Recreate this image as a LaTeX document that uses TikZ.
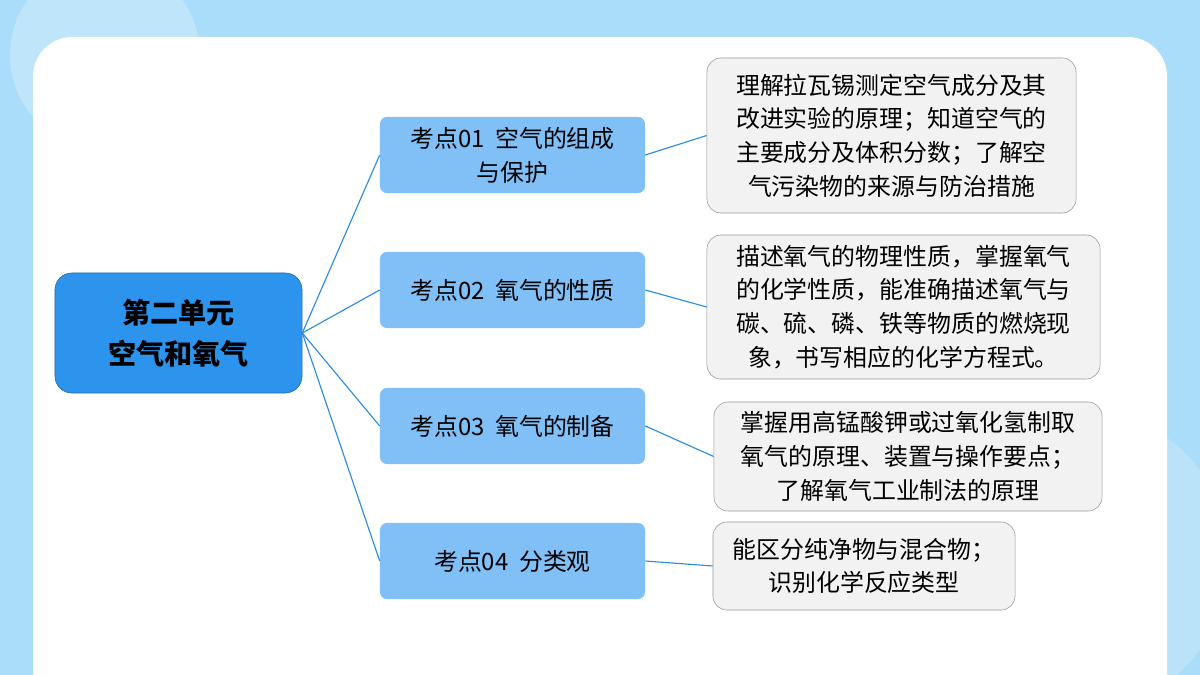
\documentclass[tikz,border=0pt]{standalone}
\usepackage{fontspec}
\setmainfont{Noto Sans CJK SC}
\usetikzlibrary{positioning,calc}
\definecolor{bgblue}{HTML}{A9DDF9}
\definecolor{rootblue}{HTML}{2D94EE}
\definecolor{catblue}{HTML}{80C0F6}
\definecolor{linkblue}{HTML}{2A8BE6}
\definecolor{detgray}{HTML}{F2F2F2}

\begin{document}
\begin{tikzpicture}[x=0.025cm,y=-0.025cm,
    root/.style={draw=rootblue!70!black, fill=rootblue, rounded corners=12pt, minimum width=6.175cm, minimum height=3cm, align=center, font=\fontsize{20}{29}\selectfont\bfseries},
    cat/.style={fill=catblue, rounded corners=5pt, minimum width=6.625cm, minimum height=1.9cm, align=center, font=\fontsize{17}{24}\selectfont},
    detail/.style={draw=gray!80, fill=detgray, rounded corners=10pt, align=center, inner sep=2pt, font=\fontsize{17}{24}\selectfont},
    link/.style={draw=linkblue, thick}
]

% background and panel
\useasboundingbox (0,0) rectangle (1200,675);
\clip (0,0) rectangle (1200,675);
\fill[bgblue] (0,0) rectangle (1200,675);
\fill[white, opacity=0.25] (105,55) circle (95);
\fill[white, opacity=0.2] (1080,560) circle (150);
\fill[white, rounded corners=28pt] (33,37) rectangle (1167,720);

% root
\node[root] (unit) at (178.5,333) {第二单元\\空气和氧气};

% exam points
\node[cat] (k1) at (512.5,155) {考点01~ 空气的组成\\与保护};
\node[cat] (k2) at (512.5,290) {考点02~ 氧气的性质};
\node[cat] (k3) at (512.5,426) {考点03~ 氧气的制备};
\node[cat] (k4) at (512.5,561) {考点04~ 分类观};

% details
\node[detail, minimum width=9.225cm, minimum height=3.875cm] (d1) at (891.5,135.5)
    {理解拉瓦锡测定空气成分及其\\改进实验的原理；知道空气的\\主要成分及体积分数；了解空\\气污染物的来源与防治措施};
\node[detail, minimum width=9.825cm, minimum height=3.6cm] (d2) at (903.5,307)
    {描述氧气的物理性质，掌握氧气\\的化学性质，能准确描述氧气与\\碳、硫、磷、铁等物质的燃烧现\\象，书写相应的化学方程式。};
\node[detail, minimum width=9.7cm, minimum height=2.725cm] (d3) at (908,456.5)
    {掌握用高锰酸钾或过氧化氢制取\\氧气的原理、装置与操作要点；\\了解氧气工业制法的原理};
\node[detail, minimum width=7.55cm, minimum height=2.2cm] (d4) at (864,566)
    {能区分纯净物与混合物；\\识别化学反应类型};

% connectors
\foreach \k in {k1,k2,k3,k4}
    \draw[link] (unit.east) -- (\k.west);
\draw[link] (k1.east) -- (d1.west);
\draw[link] (k2.east) -- (d2.west);
\draw[link] (k3.east) -- (d3.west);
\draw[link] (k4.east) -- (d4.west);

\end{tikzpicture}
\end{document}
